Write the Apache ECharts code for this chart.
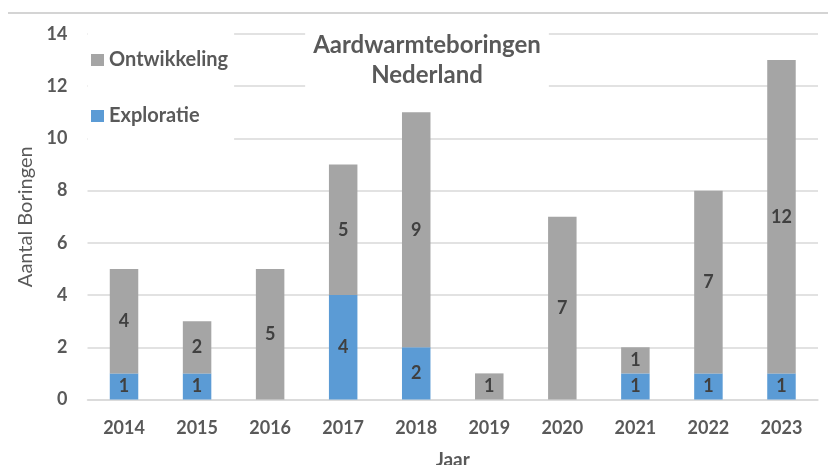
<!DOCTYPE html>
<html>
<head>
<meta charset="utf-8">
<script src="https://cdn.jsdelivr.net/npm/echarts@6/dist/echarts.min.js"></script>
<style>
html,body{margin:0;padding:0;background:#fff;}
#chart{width:828px;height:465px;}
</style>
</head>
<body>
<div id="chart"></div>
<script>
const years = ['2014','2015','2016','2017','2018','2019','2020','2021','2022','2023'];
const exploratie = [1, 1, 0, 4, 2, 0, 0, 1, 1, 1];
const ontwikkeling = [4, 2, 5, 5, 9, 1, 7, 1, 7, 12];
const yTicks = [0, 2, 4, 6, 8, 10, 12, 14];

const FONT = 'Lato';
const TXT = '#595959';
const chart = echarts.init(document.getElementById('chart'), null, {renderer: 'canvas'});
const labelOpt = {
  show: true,
  position: 'inside',
  fontFamily: FONT,
  fontWeight: 'bold',
  fontSize: 18,
  color: '#404040',
  formatter: p => (p.value ? String(p.value) : '')
};
chart.setOption({
  animation: false,
  backgroundColor: '#fff',
  textStyle: {fontFamily: FONT},
  graphic: [{
    type: 'line',
    shape: {x1: 8, y1: 13, x2: 828, y2: 13},
    style: {stroke: '#d4d4d4', lineWidth: 2}
  }],
  title: {
    text: 'Aardwarmteboringen\nNederland',
    left: 419,
    top: 26,
    textAlign: 'center',
    padding: [4, 8, 6, 8],
    backgroundColor: '#fff',
    textStyle: {fontFamily: FONT, fontWeight: 'bold', fontSize: 24, color: TXT, lineHeight: 30}
  },
  legend: {
    orient: 'vertical',
    left: 88,
    top: 30,
    padding: [20, 6, 17, 3],
    backgroundColor: '#fff',
    itemGap: 36,
    itemWidth: 13,
    itemHeight: 12,
    icon: 'rect',
    data: ['Ontwikkeling', 'Exploratie'],
    textStyle: {fontFamily: FONT, fontWeight: 'bold', fontSize: 20, color: TXT}
  },
  grid: {left: 87.5, right: 10, top: 34, bottom: 65.5, containLabel: false, outerBoundsMode: 'none'},
  xAxis: {
    type: 'category',
    data: years,
    name: 'Jaar',
    nameLocation: 'middle',
    nameGap: 51,
    nameTextStyle: {fontFamily: FONT, fontWeight: 'bold', fontSize: 19, color: TXT},
    axisLine: {lineStyle: {color: '#d9d9d9', width: 1.5}},
    axisTick: {show: false},
    axisLabel: {margin: 20, fontFamily: FONT, fontWeight: 'bold', fontSize: 18, color: TXT}
  },
  yAxis: {
    type: 'value',
    min: yTicks[0],
    max: yTicks[yTicks.length - 1],
    interval: 2,
    name: 'Aantal Boringen',
    nameLocation: 'middle',
    nameGap: 50,
    nameTextStyle: {fontFamily: FONT, fontWeight: 'normal', fontSize: 20, color: TXT},
    axisLine: {show: false},
    axisTick: {show: false},
    axisLabel: {margin: 20, fontFamily: FONT, fontWeight: 'bold', fontSize: 18, color: TXT},
    splitLine: {lineStyle: {color: '#d9d9d9', width: 1.5}}
  },
  series: [
    {
      name: 'Exploratie',
      type: 'bar',
      stack: 'total',
      barWidth: '39%',
      data: exploratie,
      itemStyle: {color: '#5b9bd5'},
      label: labelOpt
    },
    {
      name: 'Ontwikkeling',
      type: 'bar',
      stack: 'total',
      barWidth: '39%',
      data: ontwikkeling,
      itemStyle: {color: '#a5a5a5'},
      label: labelOpt
    }
  ]
});
</script>
</body>
</html>
